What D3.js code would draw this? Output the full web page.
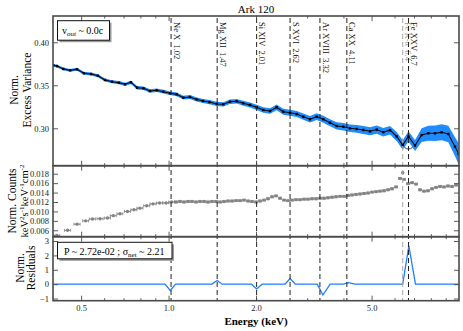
<!DOCTYPE html>
<html>
<head>
<meta charset="utf-8">
<script src="https://cdn.jsdelivr.net/npm/d3@7"></script>
<style>
  body{margin:0;background:#fff;}
  text{font-family:"Liberation Serif","Times New Roman",serif;}
</style>
</head>
<body>
<div id="chartContainer"></div>
<script>
// top panel: excess variance spectrum
const varE=[0.401,0.413,0.434,0.458,0.484,0.511,0.541,0.571,0.604,0.639,0.675,0.708,0.742,0.779,0.820,0.863,0.910,0.959,1.011,1.067,1.124,1.185,1.250,1.314,1.383,1.465,1.543,1.627,1.716,1.808,1.907,2.011,2.119,2.235,2.356,2.483,2.619,2.761,2.910,3.068,3.236,3.410,3.597,3.793,3.997,4.215,4.444,4.684,4.939,5.208,5.488,5.787,6.102,6.400,6.701,7.056,7.440,7.840,8.268,8.720,9.188,9.690,9.980];
const varV=[0.3733,0.3724,0.3690,0.3674,0.3686,0.3640,0.3631,0.3612,0.3562,0.3542,0.3530,0.3512,0.3535,0.3472,0.3465,0.3434,0.3442,0.3426,0.3407,0.3395,0.3356,0.3364,0.3335,0.3318,0.3305,0.3283,0.3279,0.3309,0.3314,0.3291,0.3271,0.3244,0.3213,0.3201,0.3244,0.3193,0.3181,0.3166,0.3135,0.3105,0.3135,0.3105,0.3065,0.3027,0.3018,0.3000,0.2992,0.2980,0.2965,0.2985,0.2955,0.2978,0.2905,0.2805,0.2905,0.2800,0.2922,0.2942,0.2942,0.2953,0.2934,0.2786,0.2700];
const varErr=[0.0016,0.0016,0.0016,0.0017,0.0017,0.0017,0.0018,0.0018,0.0018,0.0018,0.0019,0.0019,0.0019,0.0020,0.0020,0.0020,0.0021,0.0021,0.0021,0.0022,0.0022,0.0023,0.0023,0.0024,0.0024,0.0025,0.0025,0.0026,0.0027,0.0028,0.0029,0.0030,0.0031,0.0032,0.0033,0.0034,0.0035,0.0036,0.0037,0.0038,0.0039,0.0040,0.0041,0.0042,0.0043,0.0044,0.0045,0.0046,0.0047,0.0048,0.0049,0.0050,0.0052,0.0055,0.0060,0.0065,0.0080,0.0088,0.0090,0.0093,0.0095,0.0110,0.0125];

// middle panel: counts spectrum
const cntE=[0.412,0.449,0.484,0.518,0.547,0.581,0.616,0.645,0.680,0.722,0.760,0.797,0.841,0.884,0.931,0.980,1.025,
  1.061,1.095,1.130,1.167,1.204,1.243,1.283,1.325,1.367,1.411,1.457,1.504,1.552,1.602,1.654,1.707,1.762,1.819,1.878,1.938,2.001,2.065,2.132,2.200,2.271,2.344,2.420,2.498,2.578,2.661,2.747,2.836,2.927,3.021,3.119,3.219,3.323,3.430,3.540,3.654,3.772,3.894,4.019,4.149,4.282,4.420,4.563,4.710,4.861,5.018,5.180,5.347,5.519,5.697,5.880,6.070,6.265,6.400,6.467,6.676,6.891,7.113,7.342,7.579,7.823,8.075,8.335,8.604,8.881,9.167,9.463,9.768];
const cntV=[0.0049,0.0060,0.0073,0.0080,0.0084,0.00845,0.0086,0.0091,0.0095,0.0100,0.01035,0.0107,0.0112,0.0116,0.0118,0.0118,0.0120,
  0.0120,0.0121,0.0120,0.0121,0.0121,0.0120,0.0121,0.0121,0.0120,0.0121,0.0121,0.0120,0.0121,0.0122,0.0122,0.0123,0.0123,0.0124,0.0122,0.0121,0.0120,0.0122,0.0124,0.0127,0.0131,0.0133,0.0128,0.0124,0.0123,0.0124,0.0125,0.0125,0.0126,0.0126,0.0127,0.0127,0.0128,0.0128,0.0129,0.0130,0.0131,0.0132,0.0132,0.0134,0.0135,0.0136,0.0137,0.0138,0.0139,0.0141,0.0142,0.0143,0.0144,0.0146,0.0148,0.0152,0.0170,0.0182,0.0168,0.0159,0.0161,0.0158,0.0146,0.0143,0.0144,0.0148,0.0151,0.0153,0.0152,0.0154,0.0153,0.0156];
const cntErrE=[0.010,0.011,0.012,0.012,0.013,0.014,0.015,0.015,0.016,0.017,0.018,0.019,0.020,0.021,0.022,0.023,0.024,
  0.012,0.012,0.013,0.013,0.013,0.014,0.014,0.015,0.015,0.016,0.016,0.017,0.017,0.018,0.018,0.019,0.020,0.020,0.021,0.021,0.022,0.023,0.023,0.024,0.025,0.026,0.027,0.027,0.028,0.029,0.030,0.031,0.032,0.033,0.034,0.035,0.036,0.037,0.039,0.040,0.041,0.042,0.044,0.045,0.047,0.048,0.050,0.051,0.053,0.055,0.056,0.058,0.060,0.062,0.064,0.066,0.068,0.035,0.070,0.073,0.075,0.077,0.080,0.082,0.085,0.088,0.090,0.093,0.096,0.099,0.102,0.106];

// bottom panel: residuals
const resE=[0.4,0.972,1.014,1.058,1.41,1.47,1.53,1.93,2.01,2.10,2.52,2.62,2.73,3.25,3.40,3.60,4.00,4.16,4.39,6.40,6.72,7.08,10.0];
const resV=[0,0,-0.44,0,0,0.25,0,0,-0.33,0,0,0.39,0,0,-0.76,0,0,0.11,0,0,2.66,0,0];

// line identifications
const lineNames=["Ne X","Mg XII","Si XIV","S XVI","Ar XVIII","Ca XX","Fe K-\u03b1","Fe XXV"];
const lineE=[1.02,1.47,2.01,2.62,3.32,4.11,6.4,6.7];
const lineLabels=["1.02","1.47","2.01","2.62","3.32","4.11","6.4","6.7"];

const xMajor=[0.5,1,2,5];
const xMinor=[0.6,0.7,0.8,0.9,3,4,6,7,8,9];
const y1Ticks=[0.30,0.35,0.40];
const y2Ticks=[0.006,0.008,0.010,0.012,0.014,0.016,0.018];
const y3Ticks=[-1,0,1,2,3];

const W=463,H=331;
const L=53,R=459,T1=16,B1=165.7,B2=236.7,B3=300.7;
const frameCol="#4a4a4a";

const svg=d3.select("#chartContainer").append("svg")
    .attr("width",W).attr("height",H);

const x=d3.scaleLog().domain([0.4,10]).range([L,R]);
const y1=d3.scaleLinear().domain([0.2565,0.4306]).range([B1,T1]);
const y2=d3.scaleLinear().domain([0.00464,0.0197]).range([B2,B1]);
const y3=d3.scaleLinear().domain([-1.15,3.3]).range([B3,B2]);

// clip paths per panel
const defs=svg.append("defs");
[[T1,B1],[B1,B2],[B2,B3]].forEach(function(p,i){
    defs.append("clipPath").attr("id","clip"+i)
      .append("rect").attr("x",L).attr("y",p[0]).attr("width",R-L).attr("height",p[1]-p[0]);
});

// ---- top panel ----
const g1=svg.append("g").attr("clip-path","url(#clip0)");
const varData=varE.map((e,i)=>({e:e,v:varV[i],err:varErr[i]}));

// marker circle at Fe XXV
g1.append("circle")
    .attr("cx",x(6.7)).attr("cy",y1(0.2823)).attr("r",5.5)
    .attr("fill","none").attr("stroke","#111").attr("stroke-width",0.8);

g1.append("path")
    .datum(varData)
    .attr("fill","#1e8cff")
    .attr("d",d3.area().x(d=>x(d.e)).y0(d=>y1(d.v-d.err)).y1(d=>y1(d.v+d.err)));
g1.append("path")
    .datum(varData)
    .attr("fill","none").attr("stroke","#0a0a0a").attr("stroke-width",1.1)
    .attr("d",d3.line().x(d=>x(d.e)).y(d=>y1(d.v)));
g1.selectAll(".vpt")
    .data(varData)
    .enter().append("rect")
    .attr("class","vpt")
    .attr("x",d=>x(d.e)-1.2).attr("y",d=>y1(d.v)-1.2)
    .attr("width",2.4).attr("height",2.4)
    .attr("fill","#000");

// ---- middle panel ----
const g2=svg.append("g").attr("clip-path","url(#clip1)");
const cntData=cntE.map((e,i)=>({e:e,v:cntV[i],dx:cntErrE[i]}));
const pts=g2.selectAll(".cpt").data(cntData).enter().append("g").attr("class","cpt")
    .attr("stroke","#6e6e6e").attr("fill","#6e6e6e").attr("opacity",0.85);
pts.append("line")
    .attr("x1",d=>x(d.e-d.dx)).attr("x2",d=>x(d.e+d.dx))
    .attr("y1",d=>y2(d.v)).attr("y2",d=>y2(d.v)).attr("stroke-width",1);
pts.append("line")
    .attr("x1",d=>x(d.e-d.dx)).attr("x2",d=>x(d.e-d.dx))
    .attr("y1",d=>y2(d.v)-1.5).attr("y2",d=>y2(d.v)+1.5).attr("stroke-width",0.8);
pts.append("line")
    .attr("x1",d=>x(d.e+d.dx)).attr("x2",d=>x(d.e+d.dx))
    .attr("y1",d=>y2(d.v)-1.5).attr("y2",d=>y2(d.v)+1.5).attr("stroke-width",0.8);
pts.append("circle")
    .attr("cx",d=>x(d.e)).attr("cy",d=>y2(d.v)).attr("r",1.7).attr("stroke","none");

// ---- bottom panel ----
const g3=svg.append("g").attr("clip-path","url(#clip2)");
g3.append("path")
    .datum(resE.map((e,i)=>({e:e,v:resV[i]})))
    .attr("fill","none").attr("stroke","#1e7fff").attr("stroke-width",1.3)
    .attr("d",d3.line().x(d=>x(d.e)).y(d=>y3(d.v)));

// ---- dashed line markers ----
const lines=svg.append("g");
lineE.forEach(function(e,i){
    const col=i==6?"#a8a8a8":"#222";
    lines.append("line")
        .attr("x1",x(e)).attr("x2",x(e))
        .attr("y1",T1+2).attr("y2",B3)
        .attr("stroke",col).attr("stroke-width",1)
        .attr("stroke-dasharray","5,3");
    lines.append("text")
        .attr("transform",`translate(${x(e)+2.6},${T1+6}) rotate(90)`)
        .attr("font-size","8.5px")
        .attr("fill",i==6?"#999":"#111")
        .style("white-space","pre")
        .text(lineNames[i]+"  "+lineLabels[i]);
});

// ---- axes & frames ----
function xAxes(yPos,showLabels){
    svg.append("g").attr("transform",`translate(0,${yPos})`)
        .call(d3.axisBottom(x).tickValues(xMajor).tickSizeInner(-5).tickSizeOuter(0)
            .tickPadding(4).tickFormat(showLabels?d3.format(".1f"):""))
        .call(g=>g.select(".domain").remove());
    svg.append("g").attr("transform",`translate(0,${yPos})`)
        .call(d3.axisBottom(x).tickValues(xMinor).tickSizeInner(-2.5).tickSizeOuter(0).tickFormat(""))
        .call(g=>g.select(".domain").remove());
}
function xAxesTop(yPos){
    svg.append("g").attr("transform",`translate(0,${yPos})`)
        .call(d3.axisTop(x).tickValues(xMajor).tickSizeInner(-5).tickSizeOuter(0).tickFormat(""))
        .call(g=>g.select(".domain").remove());
    svg.append("g").attr("transform",`translate(0,${yPos})`)
        .call(d3.axisTop(x).tickValues(xMinor).tickSizeInner(-2.5).tickSizeOuter(0).tickFormat(""))
        .call(g=>g.select(".domain").remove());
}
function yAxes(scale,ticks,fmt){
    svg.append("g").attr("transform",`translate(${L},0)`)
        .call(d3.axisLeft(scale).tickValues(ticks).tickSizeInner(-5).tickSizeOuter(0).tickPadding(4).tickFormat(fmt))
        .call(g=>g.select(".domain").remove());
    svg.append("g").attr("transform",`translate(${R},0)`)
        .call(d3.axisRight(scale).tickValues(ticks).tickSizeInner(-5).tickSizeOuter(0).tickFormat(""))
        .call(g=>g.select(".domain").remove());
}
xAxesTop(T1); xAxes(B1,false);
xAxesTop(B1); xAxes(B2,false);
xAxesTop(B2); xAxes(B3,true);
yAxes(y1,y1Ticks,d3.format(".2f"));
yAxes(y2,y2Ticks,d3.format(".3f"));
yAxes(y3,y3Ticks,d3.format("d"));

svg.selectAll(".tick line").attr("stroke",frameCol).attr("stroke-width",0.9);
svg.selectAll(".tick text").attr("fill","#222")
    .style("font-family",'"Liberation Serif",serif');
svg.selectAll(".tick text").attr("font-size","8.5px");

[[T1,B1],[B1,B2],[B2,B3]].forEach(function(p){
    svg.append("rect").attr("x",L).attr("y",p[0]).attr("width",R-L).attr("height",p[1]-p[0])
        .attr("fill","none").attr("stroke",frameCol).attr("stroke-width",1.6);
});

// ---- titles & labels ----
svg.append("text").attr("x",(L+R)/2).attr("y",13).attr("text-anchor","middle")
    .attr("font-size","11px").text("Ark 120");
svg.append("text").attr("x",(L+R)/2).attr("y",325).attr("text-anchor","middle")
    .attr("font-size","11px").attr("font-weight","bold").text("Energy (keV)");

function yLabel(xp,yc,txt){
    return svg.append("text").attr("transform",`translate(${xp},${yc}) rotate(-90)`)
        .attr("text-anchor","middle").attr("font-size","11.5px").text(txt);
}
yLabel(18,90,"Norm.");
yLabel(31,90,"Excess Variance");
yLabel(16,201,"Norm. Counts");
const kl=svg.append("text").attr("transform",`translate(27.5,201) rotate(-90)`)
    .attr("text-anchor","middle").attr("font-size","10.5px");
[["keV",0],["2",1],["s",0],["-1",1],["keV",0],["-1",1],["cm",0],["-2",1]].forEach(function(p){
    kl.append("tspan").text(p[0])
      .attr("font-size",p[1]?"7px":"10.5px")
      .attr("baseline-shift",p[1]?"super":null);
});
yLabel(24,268,"Norm.");
yLabel(35,268,"Residuals");

// ---- annotation boxes ----
function box(x0,y0,w,h){
    svg.append("rect").attr("x",x0+2).attr("y",y0+2).attr("width",w).attr("height",h).attr("fill","#9a9a9a");
    svg.append("rect").attr("x",x0).attr("y",y0).attr("width",w).attr("height",h)
        .attr("fill","#fff").attr("stroke","#111").attr("stroke-width",1);
}
box(57.5,20.7,52,19.5);
const t1=svg.append("text").attr("x",62).attr("y",34).attr("font-size","10px");
t1.append("tspan").text("v");
t1.append("tspan").text("out").attr("font-size","7px").attr("font-style","italic").attr("dy",2);
t1.append("tspan").text(" ~ 0.0c").attr("dy",-2);

box(57.5,242.3,114.5,16.5);
const t2=svg.append("text").attr("x",64).attr("y",254.5).attr("font-size","10px");
t2.append("tspan").text("P ~ 2.72e-02 ; \u03c3");
t2.append("tspan").text("net").attr("font-size","7px").attr("dy",2);
t2.append("tspan").text(" ~ 2.21").attr("dy",-2);
</script>
</body>
</html>
